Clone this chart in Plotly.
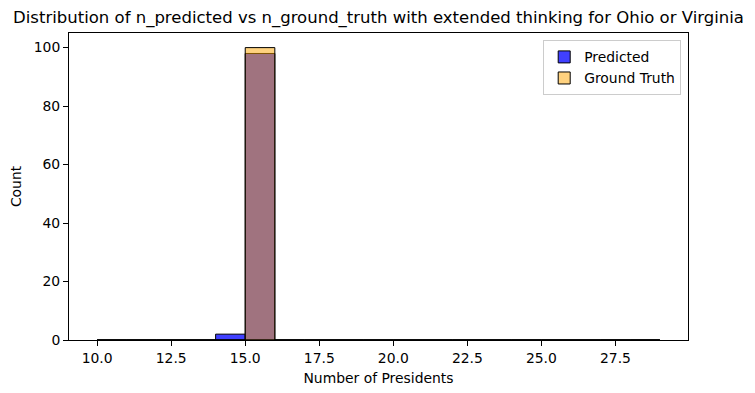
import plotly.graph_objects as go

# bins de largura 1, de 10 a 29
bordas = list(range(10, 30))
centros = [b + 0.5 for b in bordas[:-1]]

contagem_predito = [0, 0, 0, 0, 2, 98, 0, 0, 0, 0, 0, 0, 0, 0, 0, 0, 0, 0, 0]
contagem_real = [0, 0, 0, 0, 0, 100, 0, 0, 0, 0, 0, 0, 0, 0, 0, 0, 0, 0, 0]

fonte = "DejaVu Sans"

fig = go.Figure()

# linha das barras de altura zero (como no seaborn)
fig.add_trace(go.Scatter(x=[bordas[0], bordas[-1]], y=[0, 0], mode="lines",
                         line=dict(color="rgba(0,0,0,0.45)", width=1),
                         showlegend=False, hoverinfo="skip"))

fig.add_trace(go.Bar(x=centros, y=contagem_predito, width=1, name="Predicted",
                     marker=dict(color="rgba(0,0,255,0.75)",
                                 line=dict(color="black", width=1))))
fig.add_trace(go.Bar(x=centros, y=contagem_real, width=1, name="Ground Truth",
                     marker=dict(color="rgba(255,165,0,0.5)",
                                 line=dict(color="black", width=1))))

# a pagina tem 8px de margem no body, por isso o desconto
fig.update_layout(
    width=747, height=385,
    barmode="overlay",
    plot_bgcolor="white", paper_bgcolor="white",
    margin=dict(l=60.5, r=67, t=24.5, b=53, autoexpand=False),
    font=dict(family=fonte, size=13.9, color="black"),
    title=dict(text="Distribution of n_predicted vs n_ground_truth with extended thinking for Ohio or Virginia",
               x=0.5, xref="paper", xanchor="center",
               y=1 - 9.5 / 385, yref="container", yanchor="middle",
               font=dict(family=fonte, size=16.5, color="black")),
    legend=dict(x=0.989, y=0.976, xanchor="right", yanchor="top",
                bgcolor="rgba(255,255,255,0.8)", bordercolor="#cccccc", borderwidth=1,
                font=dict(size=13.9)),
    showlegend=True,
)

fig.update_xaxes(range=[9.05, 29.95], tickvals=[10, 12.5, 15, 17.5, 20, 22.5, 25, 27.5],
                 tickformat=".1f", ticks="outside", ticklen=5, tickcolor="black",
                 showline=True, linecolor="black", linewidth=1, mirror=True,
                 showgrid=False, zeroline=False, automargin=False,
                 title=dict(text="Number of Presidents", font=dict(size=13.9), standoff=8))
fig.update_yaxes(range=[0, 105], tickvals=[0, 20, 40, 60, 80, 100],
                 ticks="outside", ticklen=5, tickcolor="black",
                 showline=True, linecolor="black", linewidth=1, mirror=True,
                 showgrid=False, zeroline=False, automargin=False,
                 title=dict(text="Count", font=dict(size=13.9), standoff=10))

fig.write_html("out.html")
